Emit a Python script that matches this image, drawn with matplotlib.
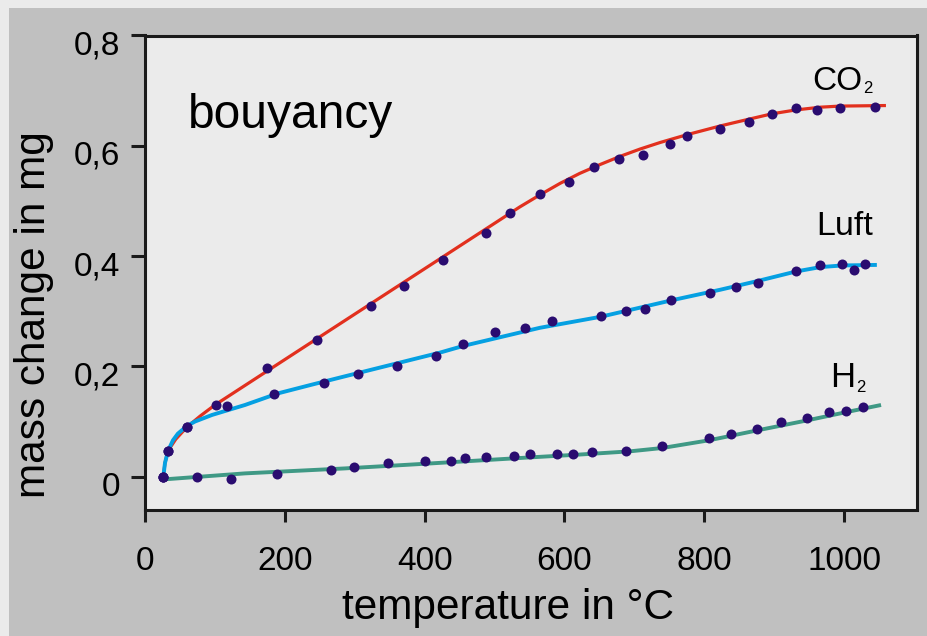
import matplotlib
matplotlib.use("Agg")
import matplotlib.pyplot as plt
import matplotlib.transforms as mtrans
from matplotlib.patches import Rectangle

plt.rcParams['font.family'] = ['Liberation Sans', 'DejaVu Sans']

# measured points (temperature in C, mass change in mg)
co2_temp = [26, 32.5, 59.7, 101, 175, 246, 323, 371, 427, 488, 522, 565, 606, 643, 678, 713,
            751, 775, 822, 864, 897, 932, 962, 994, 1045]
co2_mass = [0.0, 0.047, 0.091, 0.130, 0.197, 0.248, 0.309, 0.345, 0.393, 0.442, 0.478, 0.512,
            0.534, 0.561, 0.576, 0.583, 0.604, 0.617, 0.631, 0.644, 0.658, 0.668, 0.665, 0.668, 0.670]

luft_temp = [26, 32.5, 59.7, 118, 184, 256, 305, 360, 417, 455, 501, 544, 582, 653, 688, 716,
             753, 808, 845, 877, 931, 966, 997, 1014, 1030]
luft_mass = [0.0, 0.047, 0.091, 0.128, 0.150, 0.170, 0.187, 0.201, 0.219, 0.240, 0.262, 0.270,
             0.283, 0.291, 0.301, 0.304, 0.321, 0.333, 0.344, 0.351, 0.373, 0.384, 0.385, 0.375, 0.386]

h2_temp = [26, 74, 123, 189, 266, 299, 348, 401, 438, 458, 488, 528, 551, 589, 612, 640, 688,
           740, 807, 838, 876, 910, 947, 978, 1003, 1027]
h2_mass = [0.0, -0.001, -0.004, 0.005, 0.012, 0.017, 0.024, 0.029, 0.029, 0.033, 0.036, 0.037,
           0.041, 0.042, 0.042, 0.045, 0.047, 0.055, 0.071, 0.078, 0.087, 0.099, 0.107, 0.117,
           0.120, 0.127]

# fitted curves
co2_fit_temp = [26, 28.6, 33, 44, 60, 79, 100, 536, 565, 594, 622, 651, 680, 708, 737, 775,
                823, 863, 897, 931, 966, 994, 1060]
co2_fit_mass = [-0.002, 0.025, 0.047, 0.068, 0.090, 0.110, 0.130, 0.489, 0.511, 0.532, 0.550,
                0.566, 0.581, 0.594, 0.606, 0.620, 0.636, 0.648, 0.658, 0.665, 0.670, 0.672, 0.673]

luft_fit_temp = [26, 28.6, 33, 40, 47, 60, 71.5, 96, 143, 190, 239, 286, 365, 422, 455, 565, 652,
                 754, 823, 877, 931, 966, 997, 1047]
luft_fit_mass = [-0.002, 0.025, 0.047, 0.066, 0.078, 0.092, 0.100, 0.112, 0.130, 0.151, 0.167,
                 0.182, 0.207, 0.225, 0.237, 0.270, 0.290, 0.320, 0.339, 0.355, 0.372, 0.380,
                 0.383, 0.384]

h2_fit_temp = [26, 143, 286, 408, 551, 620, 694, 740, 807, 876, 947, 1003, 1053]
h2_fit_mass = [-0.005, 0.006, 0.015, 0.024, 0.035, 0.040, 0.046, 0.052, 0.066, 0.084, 0.102,
               0.117, 0.130]

y_ticks = [0, 0.2, 0.4, 0.6, 0.8]
y_labels = ['0', '0,2', '0,4', '0,6', '0,8']
x_ticks = [0, 200, 400, 600, 800, 1000]
x_labels = ['0', '200', '400', '600', '800', '1000']

fig = plt.figure(figsize=(9.27, 6.36), dpi=100)
fig.patch.set_facecolor('#ebebeb')
fig.add_artist(Rectangle((9 / 927, 0), 1, 1 - 8 / 636, transform=fig.transFigure,
                         facecolor='#c0c0c0', edgecolor='none', zorder=-5))

ax = fig.add_axes([145 / 927, 1 - 509.5 / 636, 771.7 / 927, 474 / 636])
ax.set_facecolor('#ebebeb')

ax.plot(co2_fit_temp, co2_fit_mass, color='#e2301e', lw=2.3, zorder=2,
        solid_capstyle='butt', solid_joinstyle='round')
ax.plot(luft_fit_temp, luft_fit_mass, color='#05a0e2', lw=2.8, zorder=3,
        solid_capstyle='butt', solid_joinstyle='round')
ax.plot(h2_fit_temp, h2_fit_mass, color='#3f9985', lw=2.8, zorder=3,
        solid_capstyle='butt', solid_joinstyle='round')

dot = '#2a0c70'
ax.plot(co2_temp, co2_mass, 'o', color=dot, ms=7.2, mew=0, zorder=5)
ax.plot(luft_temp, luft_mass, 'o', color=dot, ms=7.2, mew=0, zorder=5)
ax.plot(h2_temp, h2_mass, 'o', color=dot, ms=7.2, mew=0, zorder=5)

ax.set_xlim(0, 1104)
ax.set_ylim(-0.0595, 0.8)
ax.set_xticks(x_ticks)
ax.set_xticklabels(x_labels)
ax.set_yticks(y_ticks)
ax.set_yticklabels(y_labels)

for s in ax.spines.values():
    s.set_linewidth(2.2)
    s.set_color('#1a1a1a')
ax.tick_params(axis='y', length=10, width=2.2, pad=8, labelsize=24, color='#1a1a1a')
ax.tick_params(axis='x', length=8.5, width=2.2, pad=18, labelsize=24, color='#1a1a1a')

off = mtrans.ScaledTranslation(0, -0.07, fig.dpi_scale_trans)
for lab in ax.get_yticklabels():
    lab.set_transform(lab.get_transform() + off)

ax.text(61.5, 0.632, 'bouyancy', fontsize=34.5, ha='left', va='baseline')
ax.text(955, 0.702, 'CO', fontsize=24, ha='left', va='baseline')
ax.text(1027, 0.695, '2', fontsize=12, ha='left', va='baseline')
ax.text(980, 0.163, 'H', fontsize=25, ha='left', va='baseline')
ax.text(1017, 0.154, '2', fontsize=12, ha='left', va='baseline')
ax.text(960, 0.438, 'Luft', fontsize=24.5, ha='left', va='baseline')

fig.text(508 / 927, 1 - 619 / 636, 'temperature in \u00b0C', fontsize=30.5,
         ha='center', va='baseline')
fig.text(45 / 927, 1 - 314.5 / 636, 'mass change in mg', fontsize=30.5, rotation=90,
         rotation_mode='anchor', ha='center', va='baseline')

fig.savefig('out.png', dpi=100, facecolor=fig.get_facecolor())
